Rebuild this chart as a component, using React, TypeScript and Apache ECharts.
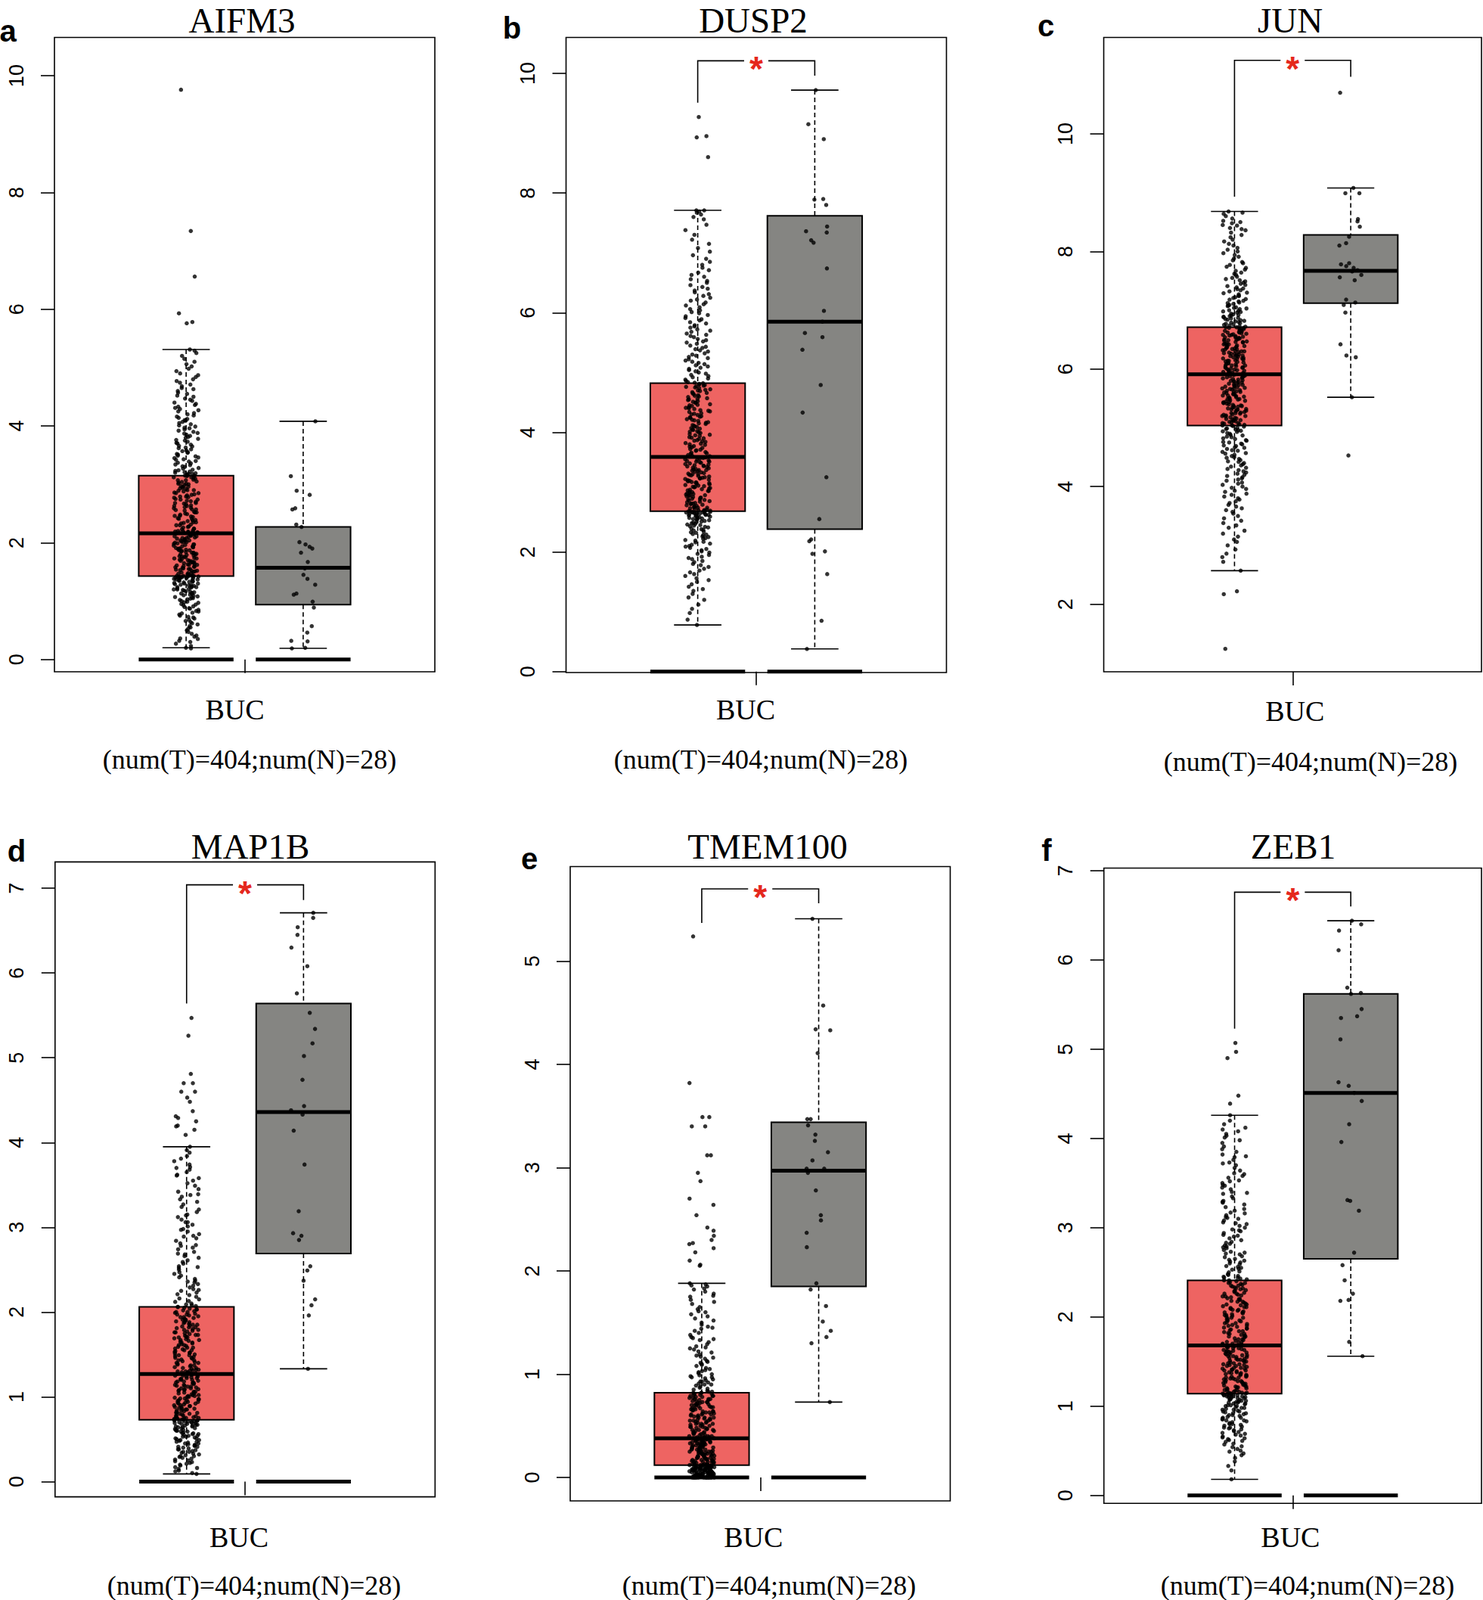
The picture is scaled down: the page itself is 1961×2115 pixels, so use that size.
import React, { useEffect, useRef } from 'react';
import * as echarts from 'echarts';

// ---------------- data ----------------
const GENES = ['AIFM3', 'DUSP2', 'JUN', 'MAP1B', 'TMEM100', 'ZEB1'];
const PANEL_LETTERS = ['a', 'b', 'c', 'd', 'e', 'f'];
const CANCER = 'BUC';
const SUBTITLE = '(num(T)=404;num(N)=28)';

// y axis ranges and ticks
const Y_MIN = [-0.211, -0.015, 0.85, -0.18, -0.227, -0.09];
const Y_MAX = [10.656, 10.6, 11.64, 7.31, 5.916, 7.03];
const Y_TICKS = [
  [0, 2, 4, 6, 8, 10],
  [0, 2, 4, 6, 8, 10],
  [2, 4, 6, 8, 10],
  [0, 1, 2, 3, 4, 5, 6, 7],
  [0, 1, 2, 3, 4, 5],
  [0, 1, 2, 3, 4, 5, 6, 7],
];

// box statistics [lower whisker, Q1, median, Q3, upper whisker]
const TUMOR_BOX = [
  [0.2, 1.43, 2.16, 3.15, 5.31],
  [0.78, 2.68, 3.59, 4.82, 7.71],
  [2.57, 5.04, 5.91, 6.71, 8.68],
  [0.09, 0.73, 1.27, 2.06, 3.95],
  [0.0, 0.12, 0.38, 0.82, 1.88],
  [0.18, 1.14, 1.68, 2.41, 4.26],
];
const NORMAL_BOX = [
  [0.19, 0.94, 1.57, 2.27, 4.08],
  [0.38, 2.38, 5.85, 7.62, 9.72],
  [5.52, 7.12, 7.67, 8.28, 9.08],
  [1.33, 2.69, 4.36, 5.64, 6.71],
  [0.73, 1.85, 2.97, 3.44, 5.41],
  [1.56, 2.65, 4.51, 5.62, 6.44],
];
// zero-level box drawn by the original tool (absent where 0 is off-scale)
const ZERO_LEVEL = [0, 0, null, 0, 0, 0];
// significance bracket [tumor leg bottom, bracket top, normal leg bottom]
const SIGNIF = [
  null,
  [9.51, 10.21, 9.96],
  [8.93, 11.25, 10.97],
  [5.64, 7.04, 6.86],
  [5.37, 5.7, 5.56],
  [5.23, 6.76, 6.6],
];

const N_AIFM3 = [4.08,3.14,2.89,2.82,2.59,2.57,2.31,2.27,2.01,1.97,1.93,1.9,1.83,1.67,1.56,1.45,1.38,1.28,1.13,1.11,0.99,0.89,0.57,0.46,0.32,0.31,0.2,0.19];
const N_DUSP2 = [9.72,9.15,8.9,7.89,7.9,7.8,7.44,7.36,7.34,7.21,7.17,6.74,6.03,5.85,5.66,5.59,5.38,4.79,4.33,3.25,2.55,2.21,2.18,2.01,1.97,1.63,0.85,0.38];
const N_JUN = [10.7,9.08,8.99,8.99,8.55,8.51,8.42,8.25,8.14,8.1,7.8,7.78,7.75,7.72,7.68,7.66,7.6,7.56,7.51,7.18,7.13,7.09,6.96,6.42,6.23,6.2,5.52,4.53];
const N_MAP1B = [6.71,6.65,6.54,6.45,6.3,6.08,5.76,5.53,5.34,5.17,5.02,4.74,4.43,4.38,4.33,4.14,3.74,3.19,2.93,2.9,2.85,2.54,2.49,2.37,2.15,2.08,1.96,1.33];
const N_TMEM100 = [5.41,4.57,4.34,4.33,4.11,3.47,3.47,3.41,3.32,3.26,3.15,3.07,2.99,2.99,2.95,2.78,2.54,2.49,2.37,2.23,1.88,1.82,1.66,1.51,1.42,1.36,1.3,0.73];
const N_ZEB1 = [6.44,6.4,6.33,6.11,5.69,5.63,5.62,5.45,5.37,5.35,5.11,4.63,4.59,4.51,4.42,4.16,3.96,3.31,3.3,3.19,2.72,2.58,2.41,2.26,2.19,2.18,1.72,1.56];

const T_AIFM3 = [
0.19,0.2,0.23,0.27,0.3,0.32,0.35,0.36,0.39,0.41,0.44,0.47,0.5,0.53,0.55,0.57,0.6,0.62,0.64,0.66,
0.68,0.7,0.72,0.73,0.75,0.77,0.79,0.8,0.82,0.83,0.85,0.87,0.88,0.9,0.91,0.93,0.94,0.95,0.97,0.98,
0.99,1.0,1.02,1.03,1.04,1.05,1.06,1.07,1.08,1.09,1.1,1.11,1.12,1.13,1.14,1.15,1.16,1.17,1.18,1.19,
1.2,1.2,1.21,1.22,1.23,1.24,1.24,1.25,1.26,1.27,1.27,1.28,1.29,1.3,1.3,1.31,1.32,1.33,1.33,1.34,
1.35,1.35,1.36,1.37,1.37,1.38,1.38,1.39,1.39,1.4,1.4,1.41,1.41,1.41,1.42,1.42,1.42,1.43,1.43,1.43,1.43,
1.44,1.45,1.45,1.46,1.47,1.48,1.48,1.49,1.5,1.51,1.52,1.52,1.53,1.54,1.55,1.55,1.56,1.57,1.58,1.59,
1.59,1.6,1.61,1.62,1.62,1.63,1.64,1.65,1.66,1.66,1.67,1.68,1.69,1.69,1.7,1.71,1.72,1.73,1.73,1.74,
1.75,1.76,1.76,1.77,1.78,1.79,1.8,1.8,1.81,1.82,1.83,1.83,1.84,1.85,1.86,1.87,1.87,1.88,1.89,1.9,
1.9,1.91,1.92,1.93,1.94,1.94,1.95,1.96,1.97,1.97,1.98,1.99,2.0,2.01,2.01,2.02,2.03,2.04,2.04,2.05,
2.06,2.07,2.08,2.08,2.09,2.1,2.11,2.11,2.12,2.13,2.14,2.15,2.15,2.16,2.16,2.17,2.17,2.18,2.18,2.19,2.19,
2.17,2.18,2.2,2.2,2.21,2.23,2.24,2.24,2.26,2.27,2.28,2.3,2.3,2.31,2.33,2.34,2.35,2.35,2.37,2.38,
2.39,2.41,2.41,2.42,2.44,2.45,2.46,2.46,2.48,2.49,2.5,2.52,2.52,2.53,2.55,2.56,2.57,2.57,2.59,2.6,
2.61,2.63,2.63,2.64,2.66,2.67,2.68,2.68,2.7,2.71,2.72,2.74,2.74,2.75,2.77,2.78,2.79,2.79,2.81,2.82,
2.83,2.85,2.85,2.86,2.88,2.89,2.9,2.9,2.92,2.93,2.94,2.96,2.96,2.97,2.99,3.0,3.01,3.01,3.03,3.04,
3.05,3.07,3.07,3.08,3.1,3.11,3.12,3.12,3.14,3.15,3.15,3.16,3.17,3.18,3.18,3.19,3.2,3.21,3.22,3.23,3.24,
3.25,3.27,3.28,3.3,3.31,3.33,3.34,3.36,3.37,3.39,3.4,3.42,3.43,3.45,3.46,3.48,3.49,3.51,3.52,3.54,
3.55,3.57,3.58,3.6,3.62,3.63,3.65,3.66,3.68,3.7,3.71,3.73,3.75,3.76,3.78,3.8,3.81,3.83,3.85,3.87,
3.88,3.9,3.92,3.94,3.96,3.97,3.99,4.01,4.03,4.05,4.07,4.09,4.1,4.12,4.14,4.16,4.18,4.2,4.22,4.25,
4.27,4.29,4.31,4.33,4.36,4.38,4.4,4.43,4.45,4.47,4.5,4.52,4.55,4.57,4.6,4.63,4.65,4.68,4.71,4.74,
4.77,4.8,4.84,4.87,4.9,4.94,4.98,5.02,5.06,5.1,5.15,5.2,5.25,5.29,5.31,
5.76,5.78,5.93,6.56,7.34,9.76,
];

const T_DUSP2 = [
0.78,0.87,0.98,1.05,1.12,1.2,1.24,1.3,1.35,1.38,1.42,1.46,1.5,1.53,1.56,1.6,1.63,1.66,1.69,1.72,
1.75,1.78,1.8,1.83,1.85,1.88,1.9,1.92,1.95,1.97,1.99,2.01,2.03,2.05,2.07,2.09,2.1,2.12,2.14,2.16,
2.17,2.19,2.2,2.22,2.23,2.25,2.26,2.28,2.29,2.3,2.32,2.33,2.34,2.36,2.37,2.38,2.39,2.41,2.42,2.43,
2.44,2.45,2.46,2.47,2.48,2.49,2.5,2.51,2.52,2.53,2.54,2.55,2.55,2.56,2.57,2.58,2.58,2.59,2.6,2.6,
2.61,2.62,2.62,2.63,2.63,2.64,2.64,2.65,2.65,2.66,2.66,2.66,2.67,2.67,2.67,2.68,2.68,2.68,2.69,2.69,2.7,
2.7,2.71,2.72,2.73,2.74,2.74,2.75,2.76,2.77,2.78,2.79,2.8,2.81,2.81,2.82,2.83,2.84,2.85,2.86,2.87,
2.88,2.88,2.89,2.9,2.91,2.92,2.93,2.94,2.95,2.95,2.96,2.97,2.98,2.99,3.0,3.01,3.02,3.02,3.03,3.04,
3.05,3.06,3.07,3.08,3.09,3.09,3.1,3.11,3.12,3.13,3.14,3.15,3.16,3.16,3.17,3.18,3.19,3.2,3.21,3.22,
3.23,3.23,3.24,3.25,3.26,3.27,3.28,3.29,3.3,3.3,3.31,3.32,3.33,3.34,3.35,3.36,3.37,3.37,3.38,3.39,
3.4,3.41,3.42,3.43,3.44,3.44,3.45,3.46,3.47,3.48,3.49,3.5,3.51,3.51,3.52,3.53,3.54,3.55,3.56,3.57,3.58,
3.6,3.61,3.62,3.64,3.65,3.66,3.67,3.69,3.7,3.71,3.72,3.74,3.75,3.76,3.77,3.79,3.8,3.81,3.82,3.84,
3.85,3.86,3.87,3.89,3.9,3.91,3.92,3.94,3.95,3.96,3.97,3.99,4.0,4.01,4.02,4.04,4.05,4.06,4.07,4.09,
4.1,4.11,4.12,4.14,4.15,4.16,4.17,4.19,4.2,4.21,4.22,4.24,4.25,4.26,4.27,4.29,4.3,4.31,4.32,4.34,
4.35,4.36,4.37,4.39,4.4,4.41,4.42,4.44,4.45,4.46,4.47,4.49,4.5,4.51,4.52,4.54,4.55,4.56,4.57,4.59,
4.6,4.61,4.62,4.64,4.65,4.66,4.67,4.69,4.7,4.71,4.72,4.74,4.75,4.76,4.77,4.78,4.79,4.8,4.81,4.82,4.83,
4.84,4.86,4.88,4.9,4.92,4.94,4.96,4.98,5.0,5.02,5.04,5.06,5.08,5.1,5.12,5.14,5.16,5.18,5.2,5.22,
5.24,5.26,5.28,5.3,5.32,5.35,5.37,5.39,5.41,5.43,5.45,5.48,5.5,5.52,5.54,5.56,5.59,5.61,5.63,5.65,
5.68,5.7,5.72,5.75,5.77,5.79,5.82,5.84,5.87,5.89,5.91,5.94,5.96,5.99,6.01,6.04,6.06,6.09,6.12,6.14,
6.17,6.2,6.22,6.25,6.28,6.31,6.34,6.37,6.4,6.43,6.46,6.5,6.53,6.56,6.6,6.63,6.67,6.71,6.75,6.8,
6.85,6.9,6.96,7.02,7.08,7.15,7.22,7.3,7.38,7.47,7.56,7.6,7.64,7.67,7.69,7.71,7.71,
8.6,8.93,8.95,9.27,
];

const T_JUN = [
1.24,2.17,2.22,
2.57,2.72,2.8,2.86,2.93,3.0,3.06,3.1,3.15,3.2,3.25,3.3,3.34,3.38,3.42,3.46,3.5,3.54,3.57,3.6,
3.63,3.66,3.69,3.72,3.75,3.78,3.8,3.83,3.86,3.88,3.91,3.93,3.96,3.98,4.0,4.03,4.05,4.07,4.1,4.12,
4.14,4.16,4.18,4.2,4.22,4.24,4.26,4.28,4.3,4.32,4.34,4.36,4.38,4.4,4.42,4.43,4.45,4.47,4.49,4.5,
4.52,4.54,4.56,4.57,4.59,4.61,4.62,4.64,4.66,4.67,4.69,4.7,4.72,4.73,4.75,4.76,4.78,4.79,4.81,4.82,
4.84,4.85,4.87,4.88,4.9,4.91,4.93,4.94,4.96,4.97,4.99,5.0,5.02,5.03,5.04,5.04,4.98,4.95,
5.05,5.06,5.07,5.08,5.08,5.09,5.1,5.11,5.12,5.13,5.13,5.14,5.15,5.16,5.17,5.18,5.19,5.2,5.2,5.21,
5.22,5.23,5.24,5.25,5.25,5.26,5.27,5.28,5.29,5.3,5.31,5.31,5.32,5.33,5.34,5.35,5.36,5.37,5.37,5.38,
5.39,5.4,5.41,5.42,5.43,5.43,5.44,5.45,5.46,5.47,5.48,5.49,5.49,5.5,5.51,5.52,5.53,5.54,5.55,5.55,
5.56,5.57,5.58,5.59,5.6,5.61,5.61,5.62,5.63,5.64,5.65,5.66,5.67,5.67,5.68,5.69,5.7,5.71,5.72,5.73,
5.73,5.74,5.75,5.76,5.77,5.78,5.79,5.79,5.8,5.81,5.82,5.83,5.84,5.85,5.85,5.86,5.87,5.88,5.89,5.9,5.91,
5.92,5.93,5.94,5.94,5.95,5.96,5.97,5.98,5.98,5.99,6.0,6.01,6.02,6.02,6.03,6.04,6.05,6.06,6.06,6.07,
6.08,6.09,6.1,6.1,6.11,6.12,6.13,6.14,6.14,6.15,6.16,6.17,6.18,6.18,6.19,6.2,6.21,6.22,6.22,6.23,
6.24,6.25,6.26,6.26,6.27,6.28,6.29,6.3,6.3,6.31,6.32,6.33,6.34,6.34,6.35,6.36,6.37,6.38,6.38,6.39,
6.4,6.41,6.42,6.42,6.43,6.44,6.45,6.46,6.46,6.47,6.48,6.49,6.5,6.5,6.51,6.52,6.53,6.54,6.54,6.55,
6.56,6.57,6.58,6.58,6.59,6.6,6.61,6.62,6.62,6.63,6.64,6.65,6.66,6.66,6.67,6.68,6.69,6.7,6.7,6.71,6.71,
6.72,6.73,6.74,6.75,6.76,6.77,6.78,6.79,6.8,6.81,6.82,6.83,6.84,6.85,6.86,6.87,6.88,6.89,6.9,6.91,
6.92,6.93,6.94,6.96,6.97,6.98,6.99,7.0,7.02,7.03,7.04,7.05,7.07,7.08,7.09,7.11,7.12,7.13,7.15,7.16,
7.18,7.19,7.21,7.22,7.24,7.25,7.27,7.29,7.3,7.32,7.34,7.36,7.37,7.39,7.41,7.43,7.45,7.47,7.49,7.51,
7.53,7.55,7.57,7.6,7.62,7.64,7.67,7.69,7.72,7.74,7.77,7.8,7.82,7.85,7.88,7.91,7.94,7.97,8.0,8.03,
8.06,8.1,8.13,8.17,8.2,8.24,8.28,8.32,8.36,8.4,8.44,8.48,8.52,8.56,8.6,8.64,8.66,8.68,8.5,8.45,8.38,
];

const T_MAP1B = [
0.09,0.1,0.12,0.13,0.15,0.16,0.17,0.19,0.2,0.21,0.22,0.23,0.24,0.25,0.26,0.27,0.28,0.29,0.3,0.3,
0.31,0.32,0.33,0.34,0.35,0.35,0.36,0.37,0.38,0.38,0.39,0.4,0.41,0.41,0.42,0.43,0.43,0.44,0.45,0.45,
0.46,0.47,0.47,0.48,0.49,0.49,0.5,0.51,0.51,0.52,0.53,0.53,0.54,0.54,0.55,0.56,0.56,0.57,0.57,0.58,
0.59,0.59,0.6,0.6,0.61,0.61,0.62,0.63,0.63,0.64,0.64,0.65,0.65,0.66,0.66,0.67,0.67,0.68,0.68,0.69,
0.69,0.7,0.7,0.7,0.71,0.71,0.71,0.72,0.72,0.72,0.73,0.73,0.73,0.74,0.74,0.74,0.75,0.75,0.75,0.76,0.76,
0.77,0.77,0.78,0.78,0.79,0.8,0.8,0.81,0.81,0.82,0.82,0.83,0.84,0.84,0.85,0.85,0.86,0.86,0.87,0.88,
0.88,0.89,0.89,0.9,0.9,0.91,0.92,0.92,0.93,0.93,0.94,0.94,0.95,0.96,0.96,0.97,0.97,0.98,0.98,0.99,
1.0,1.0,1.01,1.01,1.02,1.02,1.03,1.04,1.04,1.05,1.05,1.06,1.06,1.07,1.08,1.08,1.09,1.09,1.1,1.1,
1.11,1.12,1.12,1.13,1.13,1.14,1.14,1.15,1.16,1.16,1.17,1.17,1.18,1.18,1.19,1.2,1.2,1.21,1.21,1.22,
1.22,1.23,1.24,1.24,1.25,1.25,1.26,1.26,1.27,1.27,1.28,1.28,1.29,1.29,1.3,1.3,1.31,1.31,1.32,1.32,1.33,
1.34,1.34,1.35,1.36,1.37,1.37,1.38,1.39,1.4,1.4,1.41,1.42,1.43,1.43,1.44,1.45,1.46,1.46,1.47,1.48,
1.49,1.49,1.5,1.51,1.52,1.52,1.53,1.54,1.55,1.55,1.56,1.57,1.58,1.58,1.59,1.6,1.61,1.61,1.62,1.63,
1.64,1.64,1.65,1.66,1.67,1.67,1.68,1.69,1.7,1.7,1.71,1.72,1.73,1.73,1.74,1.75,1.76,1.76,1.77,1.78,
1.79,1.79,1.8,1.81,1.82,1.82,1.83,1.84,1.85,1.85,1.86,1.87,1.88,1.88,1.89,1.9,1.91,1.91,1.92,1.93,
1.94,1.94,1.95,1.96,1.97,1.97,1.98,1.99,2.0,2.0,2.01,2.02,2.03,2.03,2.04,2.05,2.06,2.06,2.07,2.08,2.09,
2.1,2.12,2.13,2.15,2.16,2.18,2.2,2.21,2.23,2.25,2.27,2.29,2.31,2.33,2.35,2.37,2.39,2.41,2.43,2.45,
2.47,2.5,2.52,2.54,2.57,2.59,2.61,2.64,2.66,2.69,2.71,2.74,2.76,2.79,2.81,2.84,2.87,2.89,2.92,2.95,
2.98,3.01,3.03,3.06,3.09,3.12,3.15,3.18,3.21,3.24,3.27,3.3,3.33,3.36,3.39,3.42,3.45,3.49,3.52,3.55,
3.58,3.61,3.65,3.68,3.71,3.74,3.78,3.81,3.84,3.88,3.91,3.95,3.38,3.14,2.78,2.53,2.36,2.26,3.62,3.06,
2.9,2.68,3.7,2.97,
5.47,5.26,4.81,4.7,4.7,4.6,4.6,4.53,4.48,4.37,4.31,4.29,4.25,4.2,4.19,4.15,4.09,
];

const T_TMEM100 = [
0,0,0,0,0,0,0,0,0,0,0,0,0,0,0,0.01,0.01,0.01,0.01,0.01,
0.01,0.01,0.01,0.02,0.02,0.02,0.02,0.02,0.02,0.02,0.02,0.03,0.03,0.03,0.03,0.03,0.03,0.03,0.04,0.04,
0.04,0.04,0.04,0.04,0.04,0.05,0.05,0.05,0.05,0.05,0.05,0.05,0.06,0.06,0.06,0.06,0.06,0.06,0.06,0.07,
0.07,0.07,0.07,0.07,0.07,0.07,0.08,0.08,0.08,0.08,0.08,0.08,0.08,0.09,0.09,0.09,0.09,0.09,0.09,0.09,
0.1,0.1,0.1,0.1,0.1,0.1,0.1,0.11,0.11,0.11,0.11,0.11,0.11,0.11,0.12,0.12,0.12,0.12,0.12,0.12,0.12,
0.12,0.13,0.13,0.13,0.13,0.14,0.14,0.14,0.15,0.15,0.15,0.15,0.16,0.16,0.16,0.17,0.17,0.17,0.17,0.18,
0.18,0.18,0.19,0.19,0.19,0.19,0.2,0.2,0.2,0.21,0.21,0.21,0.21,0.22,0.22,0.22,0.23,0.23,0.23,0.23,
0.24,0.24,0.24,0.25,0.25,0.25,0.25,0.26,0.26,0.26,0.27,0.27,0.27,0.27,0.28,0.28,0.28,0.29,0.29,0.29,
0.29,0.3,0.3,0.3,0.31,0.31,0.31,0.31,0.32,0.32,0.32,0.33,0.33,0.33,0.33,0.34,0.34,0.34,0.35,0.35,
0.35,0.35,0.36,0.36,0.36,0.37,0.37,0.37,0.37,0.38,0.38,0.38,0.38,0.38,0.39,0.39,0.39,0.39,0.4,0.4,0.4,
0.41,0.41,0.42,0.42,0.43,0.43,0.43,0.44,0.44,0.45,0.45,0.46,0.46,0.46,0.47,0.47,0.48,0.48,0.49,0.49,
0.49,0.5,0.5,0.51,0.51,0.52,0.52,0.52,0.53,0.53,0.54,0.54,0.55,0.55,0.55,0.56,0.56,0.57,0.57,0.58,
0.58,0.58,0.59,0.59,0.6,0.6,0.61,0.61,0.61,0.62,0.62,0.63,0.63,0.64,0.64,0.64,0.65,0.65,0.66,0.66,
0.67,0.67,0.67,0.68,0.68,0.69,0.69,0.7,0.7,0.7,0.71,0.71,0.72,0.72,0.73,0.73,0.73,0.74,0.74,0.75,
0.75,0.76,0.76,0.76,0.77,0.77,0.78,0.78,0.79,0.79,0.79,0.8,0.8,0.81,0.81,0.82,0.82,0.82,0.83,0.83,0.84,
0.85,0.86,0.87,0.88,0.89,0.9,0.91,0.92,0.93,0.94,0.95,0.96,0.97,0.98,0.99,1.0,1.01,1.02,1.04,1.05,
1.06,1.08,1.09,1.1,1.12,1.13,1.15,1.16,1.18,1.19,1.21,1.22,1.24,1.26,1.27,1.29,1.31,1.33,1.34,1.36,
1.38,1.4,1.42,1.44,1.46,1.48,1.5,1.52,1.54,1.56,1.58,1.61,1.63,1.65,1.68,1.7,1.72,1.75,1.78,1.8,
1.83,1.85,1.88,0.9,0.93,0.97,1.03,1.11,1.17,1.25,1.35,1.45,1.6,1.82,1.86,1.87,1.76,
5.24,3.82,3.49,3.49,3.4,3.4,3.12,3.12,2.95,2.87,2.7,2.64,2.54,2.42,2.39,2.34,2.3,2.27,2.26,2.22,2.18,2.1,2.06,2.05,
];

const T_ZEB1 = [
0.18,0.28,0.33,0.38,0.42,0.45,0.47,0.49,0.5,0.52,0.54,0.55,0.57,0.58,0.6,0.61,0.62,0.63,0.64,0.65,
0.66,0.67,0.68,0.69,0.7,0.71,0.72,0.73,0.74,0.75,0.76,0.76,0.77,0.78,0.79,0.8,0.8,0.81,0.82,0.83,
0.84,0.84,0.85,0.86,0.87,0.87,0.88,0.89,0.9,0.9,0.91,0.92,0.92,0.93,0.94,0.94,0.95,0.96,0.96,0.97,
0.98,0.98,0.99,1.0,1.0,1.01,1.01,1.02,1.03,1.03,1.04,1.04,1.05,1.05,1.06,1.06,1.07,1.07,1.08,1.08,
1.09,1.09,1.1,1.1,1.1,1.11,1.11,1.11,1.12,1.12,1.12,1.13,1.13,1.13,1.14,1.14,1.14,1.14,1.15,1.15,1.15,
1.16,1.16,1.17,1.17,1.18,1.18,1.19,1.2,1.2,1.21,1.21,1.22,1.22,1.23,1.23,1.24,1.25,1.25,1.26,1.26,
1.27,1.27,1.28,1.28,1.29,1.3,1.3,1.31,1.31,1.32,1.32,1.33,1.33,1.34,1.35,1.35,1.36,1.36,1.37,1.37,
1.38,1.38,1.39,1.4,1.4,1.41,1.41,1.42,1.42,1.43,1.43,1.44,1.45,1.45,1.46,1.46,1.47,1.47,1.48,1.48,
1.49,1.5,1.5,1.51,1.51,1.52,1.52,1.53,1.53,1.54,1.55,1.55,1.56,1.56,1.57,1.57,1.58,1.58,1.59,1.6,
1.6,1.61,1.61,1.62,1.62,1.63,1.63,1.64,1.65,1.65,1.66,1.66,1.67,1.67,1.68,1.68,1.69,1.69,1.7,1.7,1.71,
1.72,1.72,1.73,1.74,1.75,1.75,1.76,1.77,1.78,1.78,1.79,1.8,1.81,1.81,1.82,1.83,1.84,1.84,1.85,1.86,
1.87,1.87,1.88,1.89,1.9,1.9,1.91,1.92,1.93,1.93,1.94,1.95,1.96,1.96,1.97,1.98,1.99,1.99,2.0,2.01,
2.02,2.02,2.03,2.04,2.05,2.05,2.06,2.07,2.08,2.08,2.09,2.1,2.11,2.11,2.12,2.13,2.14,2.14,2.15,2.16,
2.17,2.17,2.18,2.19,2.2,2.2,2.21,2.22,2.23,2.23,2.24,2.25,2.26,2.26,2.27,2.28,2.29,2.29,2.3,2.31,
2.32,2.32,2.33,2.34,2.35,2.35,2.36,2.37,2.38,2.38,2.39,2.4,2.41,2.41,2.42,2.43,2.44,2.44,2.45,2.46,2.47,
2.48,2.5,2.51,2.53,2.54,2.56,2.57,2.59,2.6,2.62,2.63,2.65,2.67,2.68,2.7,2.72,2.73,2.75,2.77,2.79,
2.8,2.82,2.84,2.86,2.88,2.9,2.92,2.94,2.96,2.98,3.0,3.02,3.04,3.06,3.08,3.1,3.12,3.14,3.17,3.19,
3.21,3.23,3.26,3.28,3.3,3.33,3.35,3.38,3.4,3.43,3.45,3.48,3.5,3.53,3.56,3.58,3.61,3.64,3.67,3.7,
3.73,3.76,3.79,3.82,3.85,3.88,3.91,3.95,3.98,4.01,4.05,4.08,4.12,4.16,4.2,4.26,2.55,2.64,2.71,2.83,
2.97,3.05,3.16,3.29,3.47,3.6,3.8,4.03,2.61,2.78,2.91,3.11,3.39,3.52,3.72,4.1,
5.07,4.97,4.9,4.48,4.39,
];

const TUMOR_VALUES = [T_AIFM3, T_DUSP2, T_JUN, T_MAP1B, T_TMEM100, T_ZEB1];
const NORMAL_VALUES = [N_AIFM3, N_DUSP2, N_JUN, N_MAP1B, N_TMEM100, N_ZEB1];

// ---------------- layout & style ----------------
const W = 1961;
const H = 2115;
const RED = '#EE6462';
const GRAY = '#858582';
const STAR_RED = '#E5281D';

// 13 equal slots across each frame: tumor at slot 4, cancer label at 6, normal at 8
const SLOT_NAMES = ['s0', 's1', 's2', 's3', 'T', 's5', CANCER, 's7', 'N', 's9', 's10', 's11', 's12'];
const T_SLOT = 4;
const LABEL_SLOT = 6;
const N_SLOT = 8;

const FRAMES = [
  { l: 72, t: 49.5, r: 575, b: 888 },
  { l: 748.5, t: 49.5, r: 1251.5, b: 889 },
  { l: 1459.5, t: 49.5, r: 1959, b: 888 },
  { l: 72.8, t: 1139.4, r: 575.3, b: 1978.6 },
  { l: 754, t: 1145.5, r: 1256.5, b: 1984 },
  { l: 1459.7, t: 1147.5, r: 1959, b: 1987.3 },
];
const TITLE_POS = [[320, 27], [996, 27], [1706, 27], [331, 1119], [1015, 1119], [1710, 1119]];
const LETTER_POS = [[10.5, 41], [677, 37], [1383, 33.5], [22, 1125], [700, 1135], [1384, 1123.5]];
const SUB_POS = [[330, 1004], [1006, 1004], [1733, 1007], [336, 2096], [1017, 2096], [1729, 2096]];
const XLABEL_MARGIN = [31, 30, 33, 34, 29, 26];
const XLABEL_SHIFT = [-13, -14, 3, -8, -9, -3];

function boxRenderer(params: any, api: any) {
  const slot = api.value(0);
  const band = api.size([1, 0])[0];
  const half = band * 1.62;
  const cap = half * 0.5;
  const cx = api.coord([slot, api.value(3)])[0];
  const yLow = api.coord([slot, api.value(1)])[1];
  const yQ1 = api.coord([slot, api.value(2)])[1];
  const yMed = api.coord([slot, api.value(3)])[1];
  const yQ3 = api.coord([slot, api.value(4)])[1];
  const yHigh = api.coord([slot, api.value(5)])[1];
  const fill = slot === T_SLOT ? RED : GRAY;
  const dash = { stroke: '#000', lineWidth: 1.6, lineDash: [6, 4] };
  const solid = { stroke: '#000', lineWidth: 1.6 };
  return {
    type: 'group',
    children: [
      { type: 'line', shape: { x1: cx, y1: yHigh, x2: cx, y2: yQ3 }, style: dash },
      { type: 'line', shape: { x1: cx, y1: yQ1, x2: cx, y2: yLow }, style: dash },
      { type: 'line', shape: { x1: cx - cap, y1: yHigh, x2: cx + cap, y2: yHigh }, style: solid },
      { type: 'line', shape: { x1: cx - cap, y1: yLow, x2: cx + cap, y2: yLow }, style: solid },
      { type: 'rect', shape: { x: cx - half, y: yQ3, width: half * 2, height: yQ1 - yQ3 }, style: { fill, stroke: '#000', lineWidth: 2 } },
      { type: 'line', shape: { x1: cx - half, y1: yMed, x2: cx + half, y2: yMed }, style: { stroke: '#000', lineWidth: 5 } },
    ],
  };
}

function zeroRenderer(params: any, api: any) {
  const slot = api.value(0);
  const band = api.size([1, 0])[0];
  const half = band * 1.62;
  const p = api.coord([slot, api.value(1)]);
  return {
    type: 'line',
    shape: { x1: p[0] - half, y1: p[1], x2: p[0] + half, y2: p[1] },
    style: { stroke: '#000', lineWidth: 5 },
  };
}

function bracketRenderer(params: any, api: any) {
  const pL = api.coord([api.value(0), api.value(2)]);
  const pTopL = api.coord([api.value(0), api.value(3)]);
  const pTopR = api.coord([api.value(1), api.value(3)]);
  const pR = api.coord([api.value(1), api.value(4)]);
  const mid = (pTopL[0] + pTopR[0]) / 2;
  const gap = 16;
  const st = { stroke: '#000', lineWidth: 1.6 };
  return {
    type: 'group',
    children: [
      { type: 'polyline', shape: { points: [[pL[0], pL[1]], [pTopL[0], pTopL[1]], [mid - gap, pTopL[1]]] }, style: { ...st, fill: 'none' } },
      { type: 'polyline', shape: { points: [[mid + gap, pTopR[1]], [pTopR[0], pTopR[1]], [pR[0], pR[1]]] }, style: { ...st, fill: 'none' } },
      {
        type: 'text',
        x: mid,
        y: pTopL[1] + 11,
        style: { text: '*', fill: STAR_RED, font: 'bold 46px "Liberation Sans"', textAlign: 'center', textVerticalAlign: 'middle' },
      },
    ],
  };
}

function buildOption() {
  const grid: any[] = [];
  const xAxis: any[] = [];
  const yAxis: any[] = [];
  const series: any[] = [];
  const graphic: any[] = [];

  FRAMES.forEach((f, i) => {
    grid.push({
      left: f.l, top: f.t, width: f.r - f.l, height: f.b - f.t,
      show: true, borderColor: '#000', borderWidth: 1.6, backgroundColor: 'transparent',
    });
    const shift = XLABEL_SHIFT[i];
    xAxis.push({
      gridIndex: i,
      type: 'category',
      data: SLOT_NAMES,
      boundaryGap: true,
      jitter: 34,
      jitterOverlap: true,
      axisLine: { show: false },
      splitLine: { show: false },
      axisTick: {
        show: true, alignWithLabel: true, length: 18,
        interval: (idx: number) => idx === LABEL_SLOT,
        lineStyle: { color: '#000', width: 1.6 },
      },
      axisLabel: {
        show: true,
        interval: (idx: number) => idx === LABEL_SLOT,
        margin: XLABEL_MARGIN[i],
        fontFamily: 'Liberation Serif',
        fontSize: 38,
        color: '#000',
        padding: shift < 0 ? [0, -2 * shift, 0, 0] : [0, 0, 0, 2 * shift],
      },
    });
    yAxis.push({
      gridIndex: i,
      type: 'value',
      min: Y_MIN[i],
      max: Y_MAX[i],
      axisLine: { show: false },
      splitLine: { show: false },
      axisTick: { show: true, length: 18, customValues: Y_TICKS[i], lineStyle: { color: '#000', width: 1.6 } },
      axisLabel: {
        show: true, customValues: Y_TICKS[i], rotate: 90, margin: 37,
        fontFamily: 'Liberation Sans', fontSize: 27, color: '#000',
      },
    });

    series.push({
      type: 'custom', xAxisIndex: i, yAxisIndex: i, z: 2, silent: true,
      renderItem: boxRenderer,
      data: [[T_SLOT, ...TUMOR_BOX[i]], [N_SLOT, ...NORMAL_BOX[i]]],
    });
    if (ZERO_LEVEL[i] !== null) {
      series.push({
        type: 'custom', xAxisIndex: i, yAxisIndex: i, z: 2, silent: true,
        renderItem: zeroRenderer,
        data: [[T_SLOT, ZERO_LEVEL[i]], [N_SLOT, ZERO_LEVEL[i]]],
      });
    }
    series.push({
      type: 'scatter', xAxisIndex: i, yAxisIndex: i, z: 3, silent: true,
      symbol: 'circle', symbolSize: 5.5, itemStyle: { color: '#000' },
      data: TUMOR_VALUES[i].map((v) => [T_SLOT, v]),
    });
    series.push({
      type: 'scatter', xAxisIndex: i, yAxisIndex: i, z: 3, silent: true,
      symbol: 'circle', symbolSize: 5.5, itemStyle: { color: '#000' },
      data: NORMAL_VALUES[i].map((v) => [N_SLOT, v]),
    });
    const sig = SIGNIF[i];
    if (sig) {
      series.push({
        type: 'custom', xAxisIndex: i, yAxisIndex: i, z: 4, silent: true,
        renderItem: bracketRenderer,
        data: [[T_SLOT, N_SLOT, sig[0], sig[1], sig[2]]],
      });
    }

    graphic.push({
      type: 'text', x: TITLE_POS[i][0], y: TITLE_POS[i][1], silent: true,
      style: { text: GENES[i], fill: '#000', font: '47px "Liberation Serif"', textAlign: 'center', textVerticalAlign: 'middle' },
    });
    graphic.push({
      type: 'text', x: LETTER_POS[i][0], y: LETTER_POS[i][1], silent: true,
      style: { text: PANEL_LETTERS[i], fill: '#000', font: 'bold 40px "Liberation Sans"', textAlign: 'center', textVerticalAlign: 'middle' },
    });
    graphic.push({
      type: 'text', x: SUB_POS[i][0], y: SUB_POS[i][1], silent: true,
      style: { text: SUBTITLE, fill: '#000', font: '36px "Liberation Serif"', textAlign: 'center', textVerticalAlign: 'middle' },
    });
  });

  return {
    animation: false,
    backgroundColor: '#ffffff',
    grid,
    xAxis,
    yAxis,
    series,
    graphic,
  };
}

export default function App() {
  const ref = useRef<HTMLDivElement>(null);
  useEffect(() => {
    if (!ref.current) return;
    const chart = echarts.init(ref.current, null, { renderer: 'svg', width: W, height: H });
    chart.setOption(buildOption() as any);
    return () => {
      chart.dispose();
    };
  }, []);
  return (
    <div
      ref={ref}
      style={{ position: 'absolute', left: 0, top: 0, width: W, height: H, background: '#fff' }}
    />
  );
}
